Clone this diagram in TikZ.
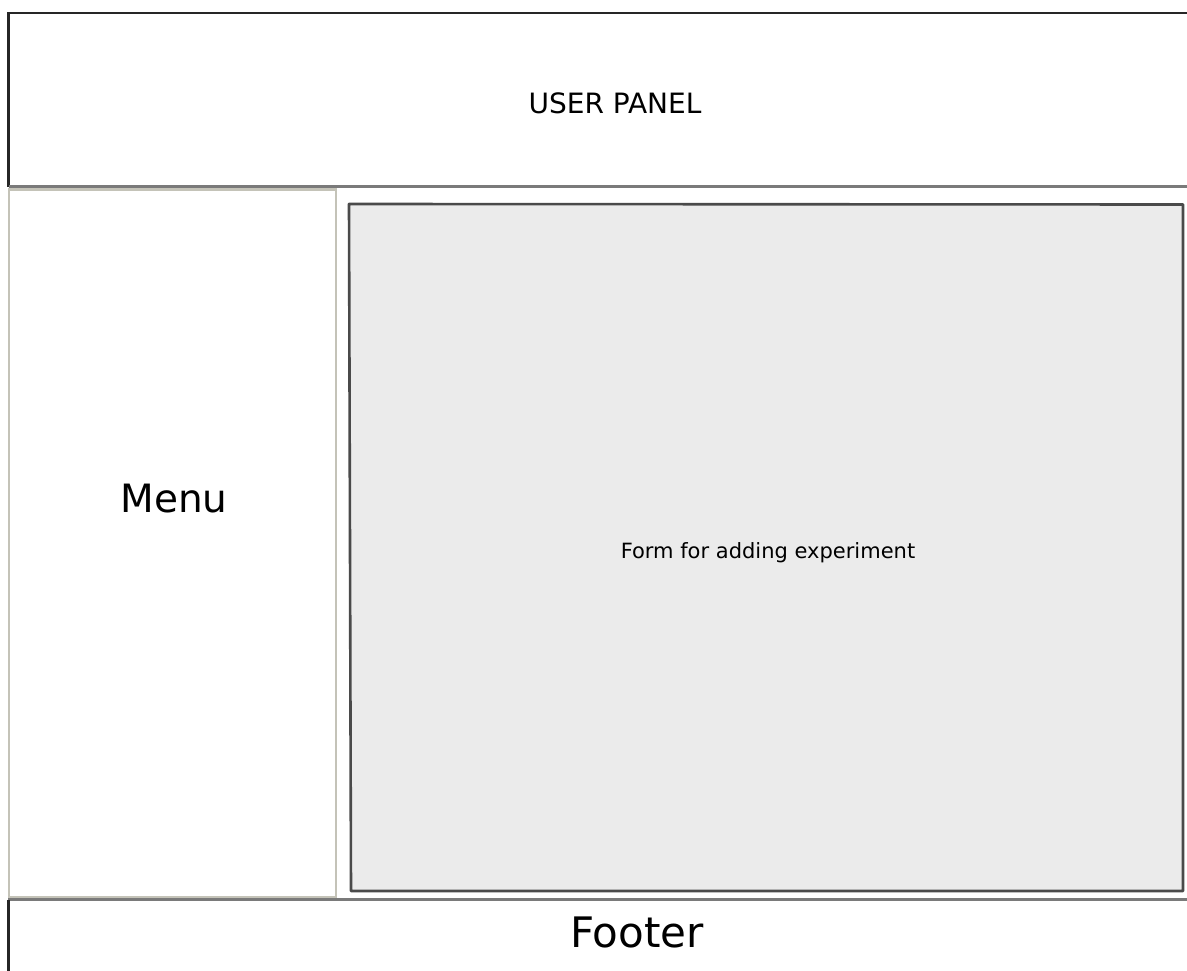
\documentclass[tikz,border=0pt]{standalone}
\usepackage{fontspec}
\setmainfont{DejaVu Sans}
\definecolor{inkdark}{HTML}{262626}
\definecolor{inkgray}{HTML}{7A7A7A}
\definecolor{menuedge}{HTML}{C4C3B8}
\definecolor{formedge}{HTML}{4A4A4A}
\definecolor{formfill}{HTML}{EBEBEB}
\tikzset{
  darkedge/.style={draw=inkdark, line width=2.2pt},
  grayedge/.style={draw=inkgray, line width=3pt},
  menuframe/.style={draw=menuedge, line width=2.4pt},
  formframe/.style={draw=formedge, fill=formfill, line width=2.6pt, line join=round},
  label/.style={inner sep=0pt, anchor=base, text=black}
}
\begin{document}
\begin{tikzpicture}[x=1pt,y=-1pt]
  \useasboundingbox (0,0) rectangle (1187,971);
  \fill[white] (0,0) rectangle (1187,971);

  % header panel
  \coordinate (hTR) at (1187,13);
  \coordinate (hTL) at (8.5,13);
  \coordinate (hBL) at (8.5,187);
  \coordinate (hBR) at (1187,187);
  \draw[darkedge] (hTR) -- (hTL) -- (hBL);
  \draw[grayedge] (hBL) -- (hBR);

  % menu column
  \coordinate (mTL) at (9,189.5);
  \coordinate (mBR) at (336,897);
  \draw[menuframe] (mTL) rectangle (mBR);

  % footer
  \coordinate (fTL) at (8,899.5);
  \coordinate (fTR) at (1187,899.5);
  \coordinate (fBL) at (8.5,971);
  \draw[grayedge] (fTL) -- (fTR);
  \draw[darkedge] (8.5,899.5) -- (fBL);

  % content area holding the form
  \coordinate (cTL) at (349,204);
  \coordinate (cTR) at (1183,204.5);
  \coordinate (cBR) at (1183,891);
  \coordinate (cBL) at (351,891);
  \draw[formframe] (cTL) -- (cTR) -- (cBR) -- (cBL) -- cycle;

  % texts
  \node[label] (header) at (615,114) {\fontsize{28}{34}\selectfont USER PANEL};
  \node[label] (menu) at (174,512) {\fontsize{39}{46}\selectfont Menu};
  \node[label] (form) at (768,558) {\fontsize{21}{26}\selectfont Form for adding experiment};
  \node[label] (footer) at (637,947) {\fontsize{42}{50}\selectfont Footer};
\end{tikzpicture}
\end{document}
